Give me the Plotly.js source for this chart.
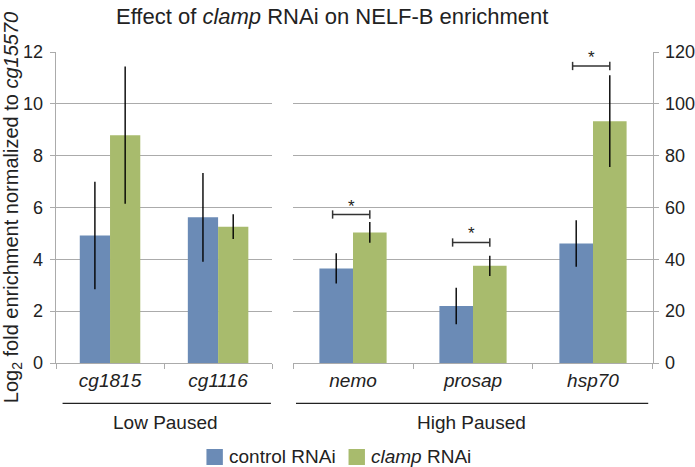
<!DOCTYPE html>
<html>
<head>
<meta charset="utf-8">
<script src="https://cdn.plot.ly/plotly-3.0.1.min.js"></script>
<style>
  html, body { margin: 0; padding: 0; background: #fff; }
  #plot { width: 695px; height: 467px; }
</style>
</head>
<body>
<div id="plot"></div>
<script>
// low paused genes (left axis, 0-12)
var lowGenes = ['cg1815', 'cg1116'];
var lowControl = [4.92, 5.62];
var lowControlErr = [2.07, 1.71];
var lowClamp = [8.79, 5.26];
var lowClampErr = [2.65, 0.48];

// high paused genes (right axis, 0-120)
var highGenes = ['nemo', 'prosap', 'hsp70'];
var highControl = [36.5, 22.0, 46.1];
var highControlErr = [5.8, 7.0, 9.0];
var highClamp = [50.4, 37.5, 93.3];
var highClampErr = [4.0, 3.9, 17.7];

// significance brackets over the high paused genes
var sigGenes = ['nemo', 'prosap', 'hsp70'];
var sigLevel = [57.3, 46.5, 114.6];

var seriesNames = ['control RNAi', '<i>clamp</i> RNAi'];

var blue = '#6b8bb6';
var green = '#a8bb6d';
var grid = '#ababab';
var font = 'Arial, Liberation Sans, sans-serif';
var ink = '#222';

function errBar(arr) {
  return {type: 'data', array: arr, visible: true, width: 0, thickness: 1.4, color: '#000'};
}

var trace1 = {
  x: lowGenes, y: lowControl, error_y: errBar(lowControlErr),
  name: seriesNames[0], type: 'bar', marker: {color: blue}, xaxis: 'x', yaxis: 'y'
};
var trace2 = {
  x: lowGenes, y: lowClamp, error_y: errBar(lowClampErr),
  name: seriesNames[1], type: 'bar', marker: {color: green}, xaxis: 'x', yaxis: 'y'
};
var trace3 = {
  x: highGenes, y: highControl, error_y: errBar(highControlErr),
  name: seriesNames[0], type: 'bar', marker: {color: blue}, xaxis: 'x2', yaxis: 'y2'
};
var trace4 = {
  x: highGenes, y: highClamp, error_y: errBar(highClampErr),
  name: seriesNames[1], type: 'bar', marker: {color: green}, xaxis: 'x2', yaxis: 'y2'
};

var data = [trace1, trace2, trace3, trace4];

var shapes = [];
var annotations = [];

// brackets + stars
for (var i = 0; i < sigGenes.length; i++) {
  var c = highGenes.indexOf(sigGenes[i]);
  var x0 = c - 0.17, x1 = c + 0.14, yv = sigLevel[i];
  var ln = {color: '#333', width: 1.5};
  shapes.push({type: 'line', xref: 'x2', yref: 'y2', x0: x0, x1: x1, y0: yv, y1: yv, line: ln});
  shapes.push({type: 'line', xref: 'x2', yref: 'y2', x0: x0, x1: x0, y0: yv - 1.6, y1: yv + 1.6, line: ln});
  shapes.push({type: 'line', xref: 'x2', yref: 'y2', x0: x1, x1: x1, y0: yv - 1.6, y1: yv + 1.6, line: ln});
  annotations.push({xref: 'x2', yref: 'y2', x: (x0 + x1) / 2, y: yv, text: '*', showarrow: false,
    xanchor: 'center', yanchor: 'bottom', yshift: -3, font: {family: font, size: 17, color: ink}});
}

// group lines and labels under the axes
shapes.push({type: 'line', xref: 'paper', yref: 'paper', x0: 0.011, x1: 0.360, y0: -0.13, y1: -0.13, line: {color: ink, width: 1.3}});
shapes.push({type: 'line', xref: 'paper', yref: 'paper', x0: 0.402, x1: 0.992, y0: -0.13, y1: -0.13, line: {color: ink, width: 1.3}});
annotations.push({xref: 'paper', yref: 'paper', x: 0.184, y: -0.192, text: 'Low Paused', showarrow: false,
  xanchor: 'center', yanchor: 'middle', font: {family: font, size: 19, color: ink}});
annotations.push({xref: 'paper', yref: 'paper', x: 0.696, y: -0.192, text: 'High Paused', showarrow: false,
  xanchor: 'center', yanchor: 'middle', font: {family: font, size: 19, color: ink}});

// legend (swatches + labels)
var legX = [0.252, 0.490];
var legColors = [blue, green];
for (var k = 0; k < 2; k++) {
  shapes.push({type: 'rect', xref: 'paper', yref: 'paper', x0: legX[k], x1: legX[k] + 0.0275,
    y0: -0.328, y1: -0.2765, fillcolor: legColors[k], line: {width: 0}});
  annotations.push({xref: 'paper', yref: 'paper', x: legX[k] + 0.034, y: -0.302, text: seriesNames[k],
    showarrow: false, xanchor: 'left', yanchor: 'middle', font: {family: font, size: 19, color: ink}});
}

var layout = {
  width: 695, height: 467,
  margin: {l: 56, r: 42, t: 52, b: 104},
  paper_bgcolor: '#fff', plot_bgcolor: '#fff',
  font: {family: font, size: 18, color: ink},
  title: {text: 'Effect of <i>clamp</i> RNAi on NELF-B enrichment', font: {family: font, size: 22, color: ink},
    x: 0.478, xanchor: 'center', y: 0.966, yanchor: 'middle', xref: 'container', yref: 'container'},
  barmode: 'group', bargap: 0.44, bargroupgap: 0,
  showlegend: false,
  xaxis: {domain: [0, 0.362], anchor: 'y', type: 'category', range: [-0.5, 1.5],
    showline: true, linecolor: grid, linewidth: 1.3, ticks: 'outside', tickson: 'boundaries',
    ticklen: 5, tickcolor: grid, showgrid: false, tickfont: {family: font, style: 'italic', size: 19, color: ink}},
  xaxis2: {domain: [0.397, 1], anchor: 'y2', type: 'category', range: [-0.5, 2.5],
    showline: true, linecolor: grid, linewidth: 1.3, ticks: 'outside', tickson: 'boundaries',
    ticklen: 5, tickcolor: grid, showgrid: false, tickfont: {family: font, style: 'italic', size: 19, color: ink}},
  yaxis: {anchor: 'x', range: [0, 12], dtick: 2, showline: true, linecolor: grid, linewidth: 1.3,
    ticks: 'outside', ticklen: 5, tickcolor: grid, gridcolor: grid, gridwidth: 1.3, zeroline: false,
    ticklabelstandoff: 3, tickfont: {family: font, size: 18, color: ink},
    title: {text: 'Log<sub>2</sub> fold enrichment normalized to <i>cg15570</i>', standoff: 4,
      font: {family: font, size: 20, color: ink}}},
  yaxis2: {anchor: 'x2', side: 'right', range: [0, 120], dtick: 20, showline: true, linecolor: grid, linewidth: 1.3,
    ticks: 'outside', ticklen: 5, tickcolor: grid, gridcolor: grid, gridwidth: 1.3, zeroline: false,
    ticklabelstandoff: 2, tickfont: {family: font, size: 18, color: ink}},
  shapes: shapes,
  annotations: annotations
};

Plotly.newPlot('plot', data, layout, {displayModeBar: false, staticPlot: true});
</script>
</body>
</html>
